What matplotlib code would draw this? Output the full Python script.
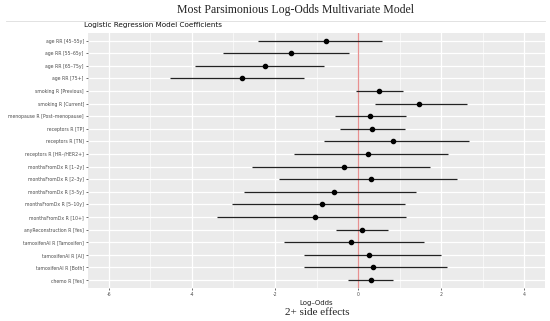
import matplotlib
matplotlib.use("Agg")
import matplotlib.pyplot as plt
from matplotlib.ticker import MultipleLocator

terms = [
    "age RR [45–55y]", "age RR [55–65y]", "age RR [65–75y]", "age RR [75+]",
    "smoking R [Previous]", "smoking R [Current]", "menopause R [Post–menopause]",
    "receptors R [TP]", "receptors R [TN]", "receptors R [HR–/HER2+]",
    "monthsFromDx R [1–2y]", "monthsFromDx R [2–3y]", "monthsFromDx R [3–5y]",
    "monthsFromDx R [5–10y]", "monthsFromDx R [10+]", "anyReconstruction R [Yes]",
    "tamoxifenAI R [Tamoxifen]", "tamoxifenAI R [AI]", "tamoxifenAI R [Both]",
    "chemo R [Yes]",
]
estimate = [-0.78, -1.61, -2.23, -2.80, 0.51, 1.46, 0.28, 0.34, 0.85, 0.23,
            -0.35, 0.31, -0.59, -0.86, -1.04, 0.09, -0.18, 0.26, 0.35, 0.30]
lower = [-2.40, -3.26, -3.92, -4.53, -0.06, 0.40, -0.56, -0.43, -0.82, -1.55,
         -2.56, -1.90, -2.75, -3.03, -3.39, -0.54, -1.78, -1.30, -1.29, -0.25]
upper = [0.57, -0.22, -0.82, -1.31, 1.09, 2.63, 1.15, 1.14, 2.67, 2.16,
         1.72, 2.38, 1.40, 1.13, 1.15, 0.72, 1.58, 1.99, 2.14, 0.85]
xticks = [-6, -4, -2, 0, 2, 4]

fig = plt.figure(figsize=(5.5, 3.21), dpi=100)
ax = fig.add_axes([0.16, 0.104, 0.831, 0.793])
ax.set_facecolor("#EBEBEB")
for s in ax.spines.values():
    s.set_visible(False)

n = len(terms)
ypos = [n - i for i in range(n)]

ax.set_xlim(-6.5, 4.5)
ax.set_ylim(0.4, n + 0.6)
ax.set_xticks(xticks)
ax.set_xticklabels([str(v) for v in xticks])
ax.xaxis.set_minor_locator(MultipleLocator(1))
ax.set_yticks(ypos)
ax.set_yticklabels(terms)
ax.grid(True, which="major", color="white", linewidth=0.9)
ax.grid(True, which="minor", axis="x", color="white", linewidth=0.45)
ax.set_axisbelow(True)
ax.tick_params(axis="both", which="major", labelsize=3.3, colors="#333333",
               length=1.5, width=0.5, pad=1.5, labelcolor="#4D4D4D")
ax.tick_params(axis="x", which="minor", length=0)

ax.axvline(0, color="#E89090", linewidth=0.9, zorder=1.5)
ax.hlines(ypos, lower, upper, color="#222222", linewidth=0.9, zorder=2)
ax.scatter(estimate, ypos, s=9, color="black", zorder=3)

ax.set_xlabel("Log–Odds", fontsize=5, color="#222222", labelpad=2)

fig.text(0.538, 0.968, "Most Parsimonious Log-Odds Multivariate Model",
         ha="center", va="center", fontsize=8.5, family="Liberation Serif",
         color="#222222")
fig.add_artist(plt.Line2D([0.01, 0.991], [0.935, 0.935], color="#DDDDDD",
                          linewidth=0.6, transform=fig.transFigure))
fig.text(0.153, 0.921, "Logistic Regression Model Coefficients", ha="left",
         va="center", fontsize=5.2, color="#111111")
fig.text(0.576, 0.026, "2+ side effects", ha="center", va="center",
         fontsize=8, family="Liberation Serif", color="#222222")

fig.savefig("out.png", dpi=100)
